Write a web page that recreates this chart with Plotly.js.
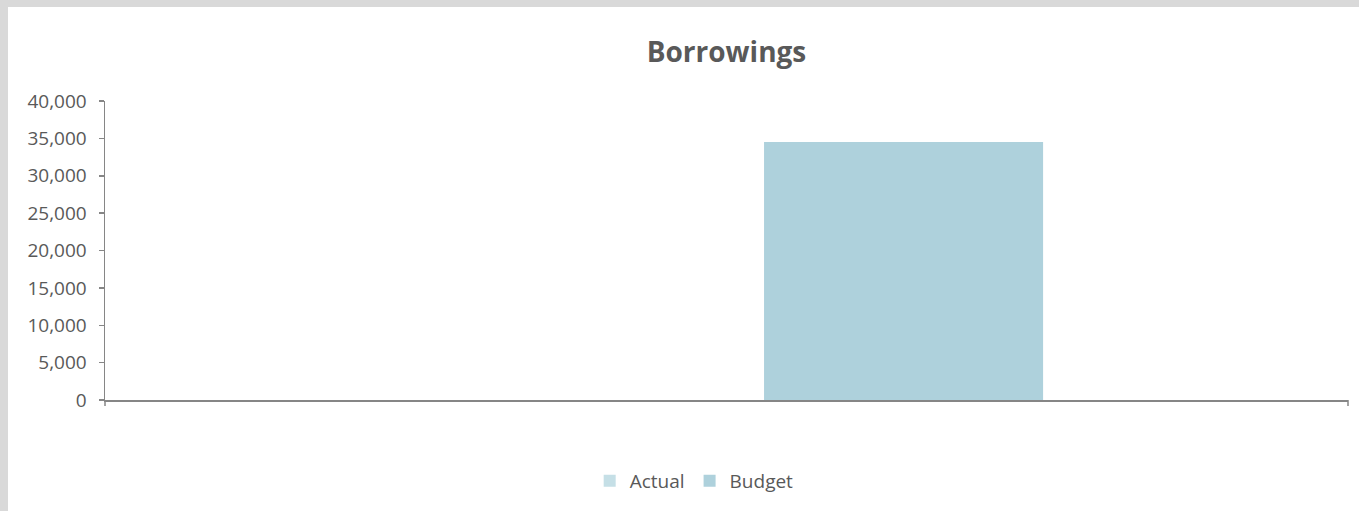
<!DOCTYPE html>
<html>
<head>
<meta charset="utf-8">
<script src="https://cdn.plot.ly/plotly-3.0.1.min.js"></script>
<style>
html,body{margin:0;padding:0;background:#d9d9d9;width:1359px;height:511px;overflow:hidden;}
#chart{position:absolute;left:8px;top:7px;width:1351px;height:504px;background:#fff;}
</style>
</head>
<body>
<div id="chart"></div>
<script>
const categories = [""];
const seriesNames = ["Actual", "Budget"];
const actualValues = [0];
const budgetValues = [34500];
const yTickVals = [0, 5000, 10000, 15000, 20000, 25000, 30000, 35000, 40000];
const yTickText = ["0", "5,000", "10,000", "15,000", "20,000", "25,000", "30,000", "35,000", "40,000"];

const fam = "Open Sans, Liberation Sans, sans-serif";

const traces = [
  {type: "bar", name: seriesNames[0], x: categories, y: actualValues,
   marker: {color: "#c5dfe6"}, width: 0.2245, offset: -0.2547, hoverinfo: "y"},
  {type: "bar", name: seriesNames[1], x: categories, y: budgetValues,
   marker: {color: "#aed1dc"}, width: 0.2245, offset: 0.0302, hoverinfo: "y"}
];

const layout = {
  width: 1351, height: 504,
  margin: {l: 97, r: 11, t: 94, b: 111, pad: 0},
  paper_bgcolor: "#ffffff", plot_bgcolor: "#ffffff",
  font: {family: fam, color: "#595959", size: 19},
  title: {text: "<b>Borrowings</b>", font: {family: fam, size: 28, color: "#595959"},
          x: 0.5, xanchor: "center", y: 1 - 45/504, yanchor: "middle", xref: "paper"},
  barmode: "group",
  showlegend: true,
  legend: {orientation: "h", x: 0.474, xanchor: "center", y: -81/299, yanchor: "middle",
           font: {family: fam, size: 19, color: "#595959"}, traceorder: "normal", itemwidth: 30},
  xaxis: {type: "category", range: [-0.5, 0.5], showgrid: false, zeroline: false,
          showline: true, linecolor: "#868686", linewidth: 1.5,
          ticks: "", showticklabels: false, fixedrange: true},
  yaxis: {range: [0, 40000], tickvals: yTickVals, ticktext: yTickText,
          showgrid: false, zeroline: false, showline: true, linecolor: "#868686", linewidth: 1.5,
          ticks: "outside", ticklen: 5, tickcolor: "#868686", tickwidth: 1.5,
          tickfont: {family: fam, size: 19, color: "#595959"}, ticklabelstandoff: 8, fixedrange: true},
  shapes: [
    {type: "line", xref: "paper", yref: "paper", x0: 0, x1: 0, y0: 0, y1: -6/299, line: {color: "#868686", width: 1.5}},
    {type: "line", xref: "paper", yref: "paper", x0: 1, x1: 1, y0: 0, y1: -6/299, line: {color: "#868686", width: 1.5}}
  ]
};

Plotly.newPlot("chart", traces, layout, {displayModeBar: false, staticPlot: true});
</script>
</body>
</html>
